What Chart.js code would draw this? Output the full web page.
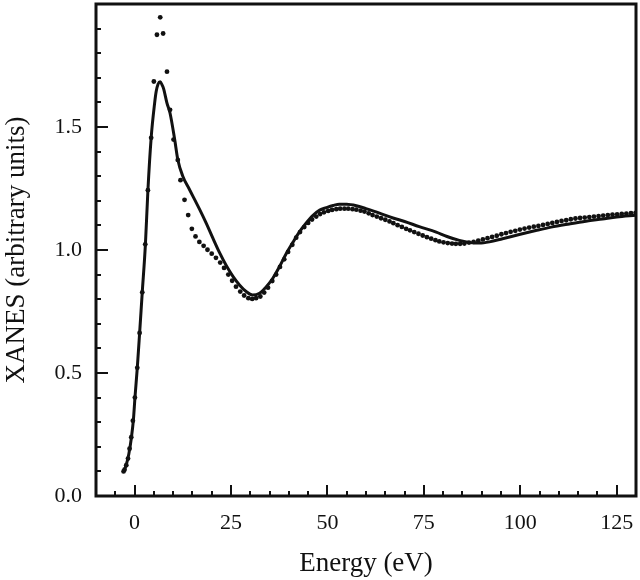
<!DOCTYPE html>
<html>
<head>
<meta charset="utf-8">
<script src="https://cdn.jsdelivr.net/npm/chart.js@4.4.1/dist/chart.umd.min.js"></script>
<style>
  html, body { margin: 0; padding: 0; background: #fff; }
  #wrap { width: 640px; height: 580px; }
</style>
</head>
<body>
<div id="wrap"><canvas id="xanes"></canvas></div>
<script>
// experiment (dots)
const expEnergy = [-2.85, -2.6, -2.15, -1.7, -1.3, -0.86, -0.44, 0.08, 0.7, 1.3, 2.0, 2.77, 3.45, 4.3, 5.0, 5.8, 6.65, 7.4, 8.4, 9.2,
  10.1, 11.2, 11.9, 12.95, 13.9, 14.85, 15.8, 16.8, 17.9, 18.9, 20.0, 21.1, 22.2, 23.2, 24.3, 25.3, 26.3, 27.4, 28.4, 29.5,
  30.5, 31.5, 32.6, 33.6, 34.6, 35.7, 36.7, 37.7, 38.8, 39.8, 40.9, 41.9, 42.9, 44.0, 45.0, 46.0, 47.1, 48.1, 49.1, 50.2,
  51.2, 52.3, 53.3, 54.4, 55.4, 56.5, 57.5, 58.6, 59.6, 60.7, 61.7, 62.8, 63.9, 65.0, 66.1, 67.1, 68.2, 69.3, 70.4, 71.4,
  72.5, 73.6, 74.7, 75.8, 76.9, 78.0, 79.0, 80.1, 81.2, 82.3, 83.3, 84.4, 85.5, 86.7, 87.9, 89.1, 90.3, 91.5, 92.7, 93.9,
  95.1, 96.3, 97.5, 98.7, 99.9, 101.1, 102.3, 103.5, 104.7, 105.9, 107.1, 108.3, 109.5, 110.7, 111.9, 113.1, 114.3, 115.5, 116.7, 117.9,
  119.1, 120.3, 121.5, 122.7, 123.9, 125.1, 126.3, 127.5, 128.7, 129.9];
const expValue = [0.100, 0.107, 0.125, 0.152, 0.192, 0.239, 0.306, 0.400, 0.521, 0.663, 0.828, 1.023, 1.243, 1.456, 1.685, 1.875, 1.946, 1.880, 1.725, 1.570,
  1.449, 1.366, 1.284, 1.204, 1.142, 1.086, 1.055, 1.033, 1.017, 1.001, 0.985, 0.968, 0.949, 0.927, 0.900, 0.875, 0.851, 0.831, 0.815, 0.804,
  0.801, 0.804, 0.811, 0.827, 0.847, 0.874, 0.900, 0.931, 0.962, 0.992, 1.021, 1.050, 1.073, 1.093, 1.110, 1.124, 1.136, 1.146, 1.153, 1.159,
  1.163, 1.166, 1.168, 1.168, 1.168, 1.166, 1.164, 1.160, 1.156, 1.149, 1.142, 1.136, 1.129, 1.123, 1.116, 1.109, 1.101, 1.094, 1.086, 1.080,
  1.073, 1.066, 1.059, 1.052, 1.046, 1.040, 1.035, 1.031, 1.028, 1.026, 1.025, 1.025, 1.026, 1.030, 1.033, 1.038, 1.043, 1.048, 1.053, 1.058,
  1.064, 1.069, 1.074, 1.078, 1.083, 1.087, 1.091, 1.095, 1.098, 1.102, 1.106, 1.110, 1.114, 1.118, 1.121, 1.125, 1.128, 1.130, 1.132, 1.134,
  1.136, 1.138, 1.140, 1.142, 1.144, 1.145, 1.147, 1.148, 1.150, 1.151];

// calculation (solid line)
const calcEnergy = [-2.85, -2.2, -1.5, -0.8, -0.3, 0.1, 0.7, 1.3, 2.0, 2.8, 3.45, 4.3, 5.2, 5.6, 6.1, 6.65, 7.1, 7.5, 8.4, 9.2,
  10.4, 11.2, 12.5, 14.2, 16.8, 18.6, 20.3, 22.0, 23.8, 25.5, 27.2, 29.0, 30.6, 32.4, 34.0, 35.8, 37.5, 39.3, 41.0, 42.7,
  44.5, 46.2, 48.0, 49.7, 51.5, 53.1, 55.0, 57.5, 60.0, 63.5, 67.0, 70.0, 73.8, 78.2, 81.0, 84.2, 87.0, 89.4, 92.0, 95.4,
  100, 104, 108, 112.7, 117, 121.3, 125, 129.9];
const calcValue = [0.10, 0.125, 0.17, 0.24, 0.31, 0.40, 0.52, 0.66, 0.83, 1.02, 1.24, 1.456, 1.597, 1.644, 1.675, 1.684, 1.672, 1.657, 1.597, 1.556,
  1.449, 1.368, 1.300, 1.247, 1.167, 1.108, 1.048, 0.990, 0.936, 0.893, 0.858, 0.830, 0.817, 0.824, 0.848, 0.884, 0.930, 0.985, 1.030, 1.073,
  1.110, 1.140, 1.162, 1.172, 1.181, 1.186, 1.186, 1.180, 1.168, 1.150, 1.130, 1.116, 1.095, 1.073, 1.055, 1.039, 1.030, 1.028, 1.033, 1.046,
  1.064, 1.079, 1.093, 1.106, 1.117, 1.126, 1.134, 1.141];

const xTicks = [0, 25, 50, 75, 100, 125];
const yTicks = [0.0, 0.5, 1.0, 1.5];

const FONT = "'Liberation Serif', 'DejaVu Serif', serif";
const INK = "#111";

// inward ticks + frame
const framePlugin = {
  id: "frame",
  afterDraw(c) {
    const ctx = c.ctx, a = c.chartArea;
    const xs = c.scales.x, ys = c.scales.y;
    ctx.save();
    ctx.strokeStyle = INK;
    ctx.lineWidth = 2;
    ctx.beginPath();
    for (let v = -5; v <= 130; v += 5) {
      const px = Math.round(xs.getPixelForValue(v));
      const len = xTicks.includes(v) ? 11 : 5;
      ctx.moveTo(px, a.bottom);
      ctx.lineTo(px, a.bottom - len);
    }
    for (let i = 1; i < 20; i++) {
      const v = i / 10;
      const py = Math.round(ys.getPixelForValue(v));
      const len = (i % 5 === 0) ? 12 : 5;
      ctx.moveTo(a.left, py);
      ctx.lineTo(a.left + len, py);
    }
    ctx.stroke();
    ctx.lineWidth = 3;
    ctx.strokeRect(a.left, a.top, a.right - a.left, a.bottom - a.top);
    ctx.restore();
  }
};

new Chart(document.getElementById("xanes"), {
  type: "scatter",
  data: {
    datasets: [
      {
        label: "calc",
        data: calcEnergy.map((e, i) => ({ x: e, y: calcValue[i] })),
        showLine: true,
        borderColor: INK,
        borderWidth: 3,
        pointRadius: 0,
        cubicInterpolationMode: "monotone",
        fill: false
      },
      {
        label: "exp",
        data: expEnergy.map((e, i) => ({ x: e, y: expValue[i] })),
        showLine: false,
        pointRadius: 2.4,
        pointBackgroundColor: INK,
        pointBorderWidth: 0,
        borderColor: INK
      }
    ]
  },
  options: {
    responsive: true,
    maintainAspectRatio: false,
    animation: false,
    layout: { padding: { top: 3, right: 4, left: 0, bottom: 0 } },
    plugins: {
      legend: { display: false },
      tooltip: { enabled: false }
    },
    scales: {
      x: {
        type: "linear",
        min: -10,
        max: 130,
        afterBuildTicks: s => { s.ticks = xTicks.map(v => ({ value: v })); },
        afterFit: s => { s.height = 84; s.paddingLeft = 0; s.paddingRight = 0; },
        grid: { display: false, drawTicks: false },
        border: { display: false },
        ticks: {
          color: INK,
          padding: 14,
          maxRotation: 0,
          font: { family: FONT, size: 22 }
        },
        title: {
          display: true,
          text: "Energy (eV)",
          color: INK,
          padding: { top: 4, bottom: 0 },
          font: { family: FONT, size: 27 }
        }
      },
      y: {
        type: "linear",
        min: 0,
        max: 2.0,
        afterBuildTicks: s => { s.ticks = yTicks.map(v => ({ value: v })); },
        afterFit: s => { s.width = 96; s.paddingTop = 0; s.paddingBottom = 0; },
        grid: { display: false, drawTicks: false },
        border: { display: false },
        ticks: {
          color: INK,
          padding: 14,
          font: { family: FONT, size: 22 },
          callback: v => Number(v).toFixed(1)
        },
        title: {
          display: true,
          text: "XANES (arbitrary units)",
          color: INK,
          padding: { top: 1, bottom: 0 },
          font: { family: FONT, size: 27 }
        }
      }
    }
  },
  plugins: [framePlugin]
});
</script>
</body>
</html>
